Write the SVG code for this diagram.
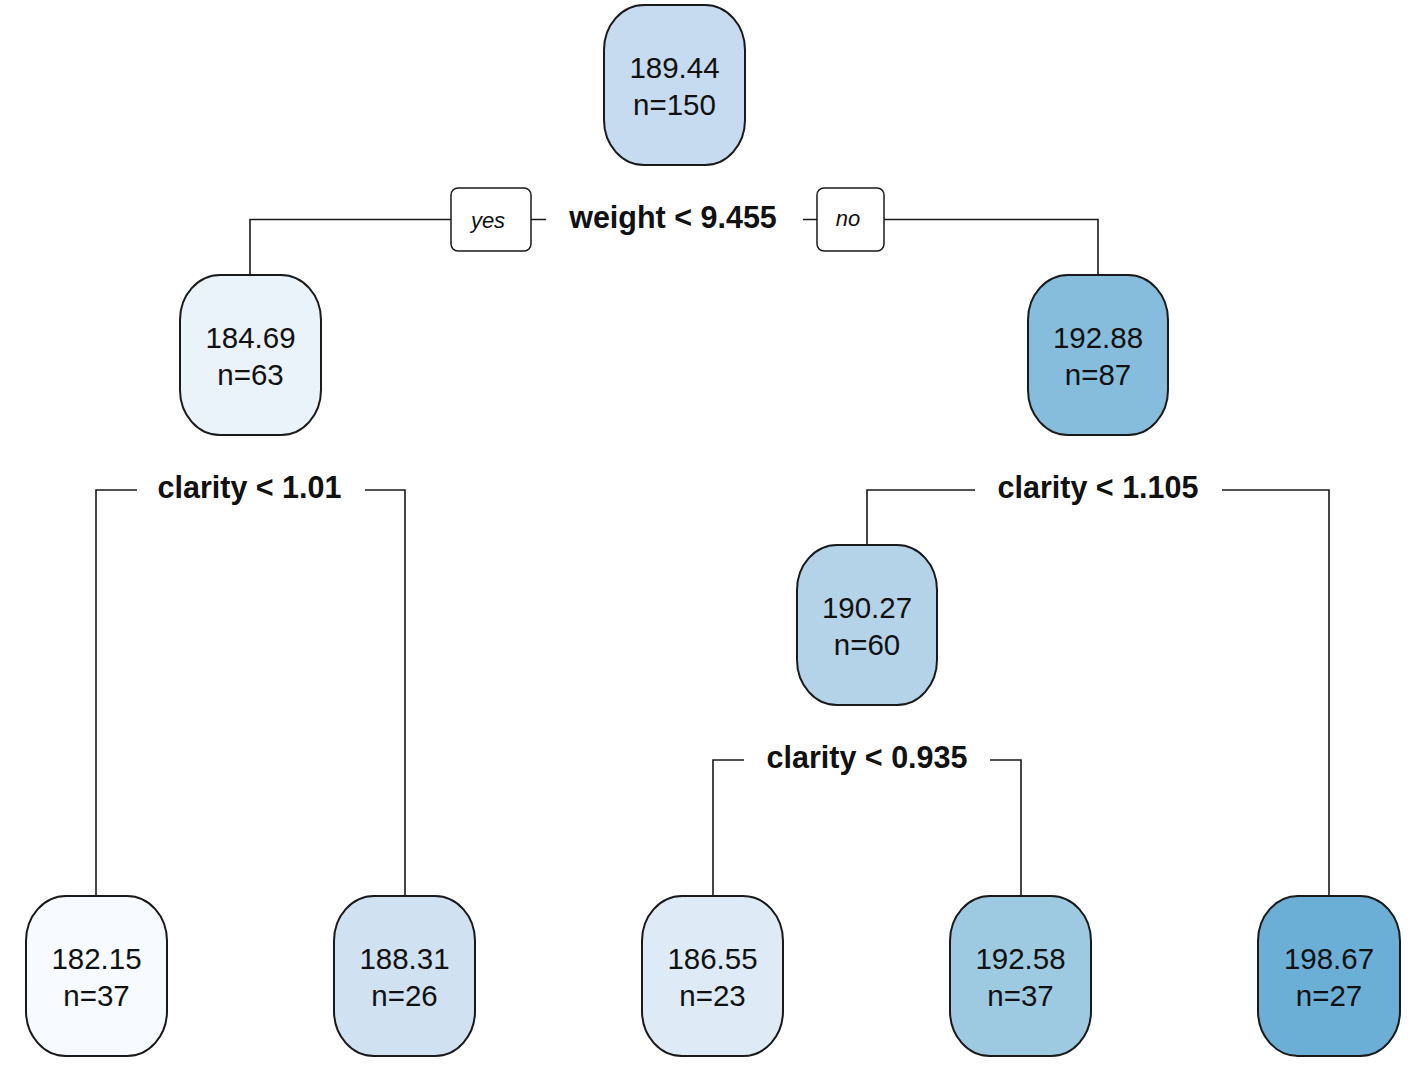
<svg xmlns="http://www.w3.org/2000/svg" width="1418" height="1076" viewBox="0 0 1418 1076">
<style>
.node rect{stroke:#1a1a1a;stroke-width:2}
.nt{font-family:"Liberation Sans",Arial,sans-serif;font-size:29.5px;text-anchor:middle;fill:#111}
.lbl{font-family:"Liberation Sans",Arial,sans-serif;font-size:30.5px;font-weight:bold;text-anchor:middle;fill:#111}
.yn rect{fill:#fff;stroke:#1a1a1a;stroke-width:1.5}
.yn text{font-family:"Liberation Sans",Arial,sans-serif;font-size:22px;font-style:italic;text-anchor:middle;fill:#111}
#connectors path{fill:none;stroke:#1a1a1a;stroke-width:1.6}
</style>
<rect width="1418" height="1076" fill="#fff"/>
<g id="connectors">
<path d="M250,275 V219.5 H451 M531,219.5 H546 M803,219.5 H817 M884,219.5 H1098 V275"/>
<path d="M96,896 V490 H137 M365,490 H405 V896"/>
<path d="M867,545 V490 H975 M1222,490 H1329 V896"/>
<path d="M713,896 V760 H744 M990,760 H1021 V896"/>
</g>
<g id="split-labels">
<text class="lbl" x="673" y="228">weight &lt; 9.455</text>
<text class="lbl" x="249.5" y="498">clarity &lt; 1.01</text>
<text class="lbl" x="1098" y="498">clarity &lt; 1.105</text>
<text class="lbl" x="867" y="768">clarity &lt; 0.935</text>
</g>
<g id="yes" class="yn"><rect x="451" y="188" width="80" height="63" rx="7"/><text x="488" y="228">yes</text></g>
<g id="no" class="yn"><rect x="817" y="188" width="67" height="63" rx="7"/><text x="848" y="226">no</text></g>
<g id="n1" class="node"><rect x="604" y="5" width="141" height="160" rx="40" ry="45" fill="#C6DBEF"/><text class="nt" x="674.5" y="78">189.44</text><text class="nt" x="674.5" y="115">n=150</text></g>
<g id="n2" class="node"><rect x="180" y="275" width="141" height="160" rx="40" ry="45" fill="#EAF2FA"/><text class="nt" x="250.5" y="348">184.69</text><text class="nt" x="250.5" y="385">n=63</text></g>
<g id="n3" class="node"><rect x="1028" y="275" width="140" height="160" rx="40" ry="45" fill="#87BDDC"/><text class="nt" x="1098" y="348">192.88</text><text class="nt" x="1098" y="385">n=87</text></g>
<g id="n7" class="node"><rect x="797" y="545" width="140" height="160" rx="40" ry="45" fill="#B4D3E9"/><text class="nt" x="867" y="618">190.27</text><text class="nt" x="867" y="655">n=60</text></g>
<g id="n4" class="node"><rect x="26" y="896" width="141" height="160" rx="40" ry="45" fill="#F7FBFF"/><text class="nt" x="96.5" y="969">182.15</text><text class="nt" x="96.5" y="1006">n=37</text></g>
<g id="n5" class="node"><rect x="334" y="896" width="141" height="160" rx="40" ry="45" fill="#D0E2F2"/><text class="nt" x="404.5" y="969">188.31</text><text class="nt" x="404.5" y="1006">n=26</text></g>
<g id="n14" class="node"><rect x="642" y="896" width="141" height="160" rx="40" ry="45" fill="#DEEBF7"/><text class="nt" x="712.5" y="969">186.55</text><text class="nt" x="712.5" y="1006">n=23</text></g>
<g id="n15" class="node"><rect x="950" y="896" width="141" height="160" rx="40" ry="45" fill="#9ECAE1"/><text class="nt" x="1020.5" y="969">192.58</text><text class="nt" x="1020.5" y="1006">n=37</text></g>
<g id="n6" class="node"><rect x="1258" y="896" width="142" height="160" rx="40" ry="45" fill="#6BAED6"/><text class="nt" x="1329" y="969">198.67</text><text class="nt" x="1329" y="1006">n=27</text></g>
</svg>
